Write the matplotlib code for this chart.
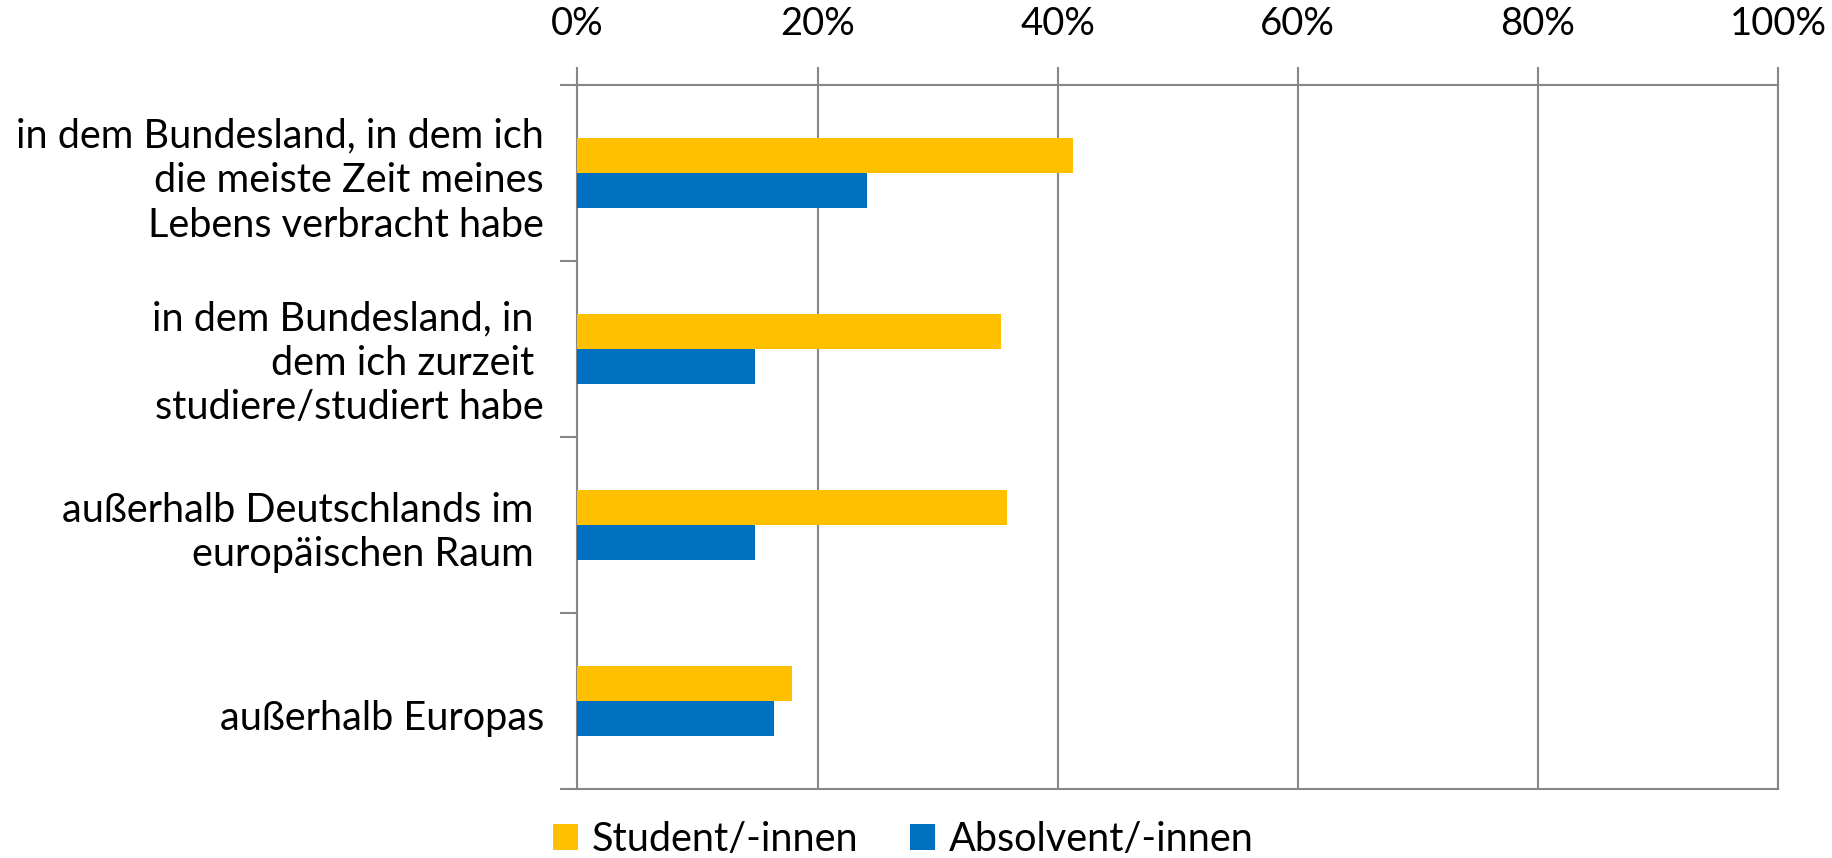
import matplotlib as mpl
import matplotlib.pyplot as plt
import matplotlib.transforms as mtransforms
import numpy as np
from matplotlib.ticker import FuncFormatter

CATEGORIES = [
    "in dem Bundesland, in dem ich\ndie meiste Zeit meines\nLebens verbracht habe",
    "in dem Bundesland, in \ndem ich zurzeit \nstudiere/studiert habe",
    "außerhalb Deutschlands im \neuropäischen Raum ",
    "außerhalb Europas",
]
STUDENTS = [41.3, 35.3, 35.8, 17.9]
GRADUATES = [24.1, 14.8, 14.8, 16.4]
SERIES_NAMES = ["Student/-innen", "Absolvent/-innen"]
X_TICKS = [0, 20, 40, 60, 80, 100]

YELLOW = "#FFC000"
BLUE = "#0070C0"
GRID = "#868686"

mpl.rcParams.update({
    "font.family": ["Lato", "DejaVu Sans"],
    "font.size": 28,
})

fig = plt.figure(figsize=(18.33, 8.58), dpi=100)
ax = fig.add_axes([0.315, 0.0804, 0.655, 0.8202])

y = np.arange(len(CATEGORIES))
h = 0.2
ax.barh(y - h / 2, STUDENTS, height=h, color=YELLOW, label=SERIES_NAMES[0], zorder=3)
ax.barh(y + h / 2, GRADUATES, height=h, color=BLUE, label=SERIES_NAMES[1], zorder=3)

ax.set_xlim(0, 100)
ax.set_ylim(len(CATEGORIES) - 0.5, -0.5)
ax.xaxis.tick_top()
ax.set_xticks(X_TICKS)
ax.xaxis.set_major_formatter(FuncFormatter(lambda v, _p: f"{v:g}%"))
ax.grid(axis="x", color=GRID, linewidth=1.5, zorder=1)

ax.set_yticks(y)
ax.set_yticklabels(CATEGORIES, ha="right", multialignment="right", linespacing=1.25,
                   fontsize=28.5)
ax.set_yticks(np.arange(len(CATEGORIES) + 1) - 0.5, minor=True)
ax.tick_params(axis="y", which="major", length=0, pad=24)
ax.tick_params(axis="y", which="minor", length=12, width=1.5, color=GRID)
ax.tick_params(axis="x", length=13, width=1.5, color=GRID, pad=18, labelsize=27.5)

# small vertical nudges of some category labels, as in the original layout
nudges = {1: -7, 3: -14}
for i, lab in enumerate(ax.get_yticklabels()):
    if i in nudges:
        off = mtransforms.ScaledTranslation(0, nudges[i] / 100, fig.dpi_scale_trans)
        lab.set_transform(lab.get_transform() + off)

for s in ax.spines.values():
    s.set_color(GRID)
    s.set_linewidth(1.5)

fig.legend(
    loc="center",
    bbox_to_anchor=(0.493, 0.022),
    ncol=2,
    frameon=False,
    handlelength=0.63,
    handleheight=0.63,
    handletextpad=0.35,
    columnspacing=1.3,
    fontsize=28.5,
)

fig.savefig("out.png", dpi=100)
